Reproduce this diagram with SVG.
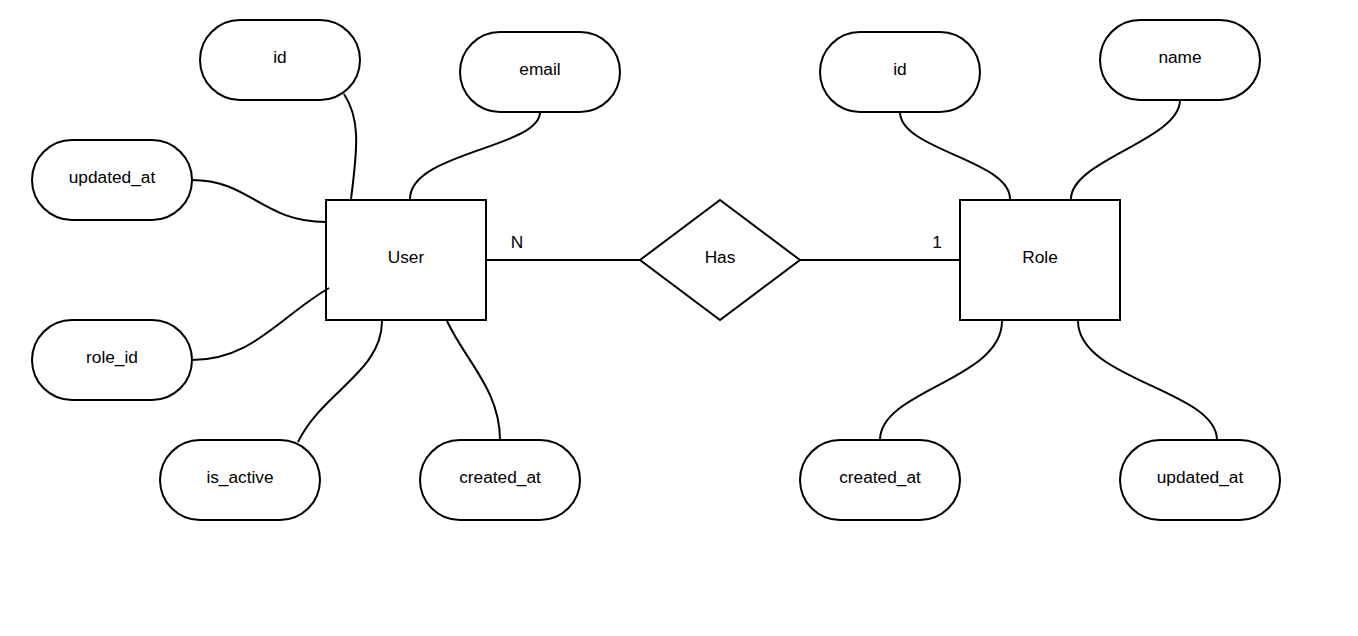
<svg xmlns="http://www.w3.org/2000/svg" width="1358" height="636" viewBox="0 0 1358 636">
  <style>
    .shape { fill: #ffffff; stroke: #000000; stroke-width: 2; }
    .edge { fill: none; stroke: #000000; stroke-width: 2; }
    text { font-family: "Liberation Sans", Arial, sans-serif; font-size: 17.3px; fill: #000000; text-anchor: middle; }
  </style>
  <rect width="1358" height="636" fill="#ffffff"/>

  <!-- entities and relationship -->
  <g id="user">
    <rect class="shape" x="326" y="200" width="160" height="120"/>
    <text x="406" y="263">User</text>
  </g>
  <g id="role">
    <rect class="shape" x="960" y="200" width="160" height="120"/>
    <text x="1040" y="263">Role</text>
  </g>
  <g id="has">
    <polygon class="shape" points="720,200 800,260 720,320 640,260"/>
    <text x="720" y="263">Has</text>
  </g>

  <!-- User attributes -->
  <g id="user-id">
    <rect class="shape" x="200" y="20" width="160" height="80" rx="40" ry="40"/>
    <text x="280" y="63">id</text>
  </g>
  <g id="user-email">
    <rect class="shape" x="460" y="32" width="160" height="80" rx="40" ry="40"/>
    <text x="540" y="75">email</text>
  </g>
  <g id="user-updated-at">
    <rect class="shape" x="32" y="140" width="160" height="80" rx="40" ry="40"/>
    <text x="112" y="183">updated_at</text>
  </g>
  <g id="user-role-id">
    <rect class="shape" x="32" y="320" width="160" height="80" rx="40" ry="40"/>
    <text x="112" y="363">role_id</text>
  </g>
  <g id="user-is-active">
    <rect class="shape" x="160" y="440" width="160" height="80" rx="40" ry="40"/>
    <text x="240" y="483">is_active</text>
  </g>
  <g id="user-created-at">
    <rect class="shape" x="420" y="440" width="160" height="80" rx="40" ry="40"/>
    <text x="500" y="483">created_at</text>
  </g>

  <!-- Role attributes -->
  <g id="role-id">
    <rect class="shape" x="820" y="32" width="160" height="80" rx="40" ry="40"/>
    <text x="900" y="75">id</text>
  </g>
  <g id="role-name">
    <rect class="shape" x="1100" y="20" width="160" height="80" rx="40" ry="40"/>
    <text x="1180" y="63">name</text>
  </g>
  <g id="role-created-at">
    <rect class="shape" x="800" y="440" width="160" height="80" rx="40" ry="40"/>
    <text x="880" y="483">created_at</text>
  </g>
  <g id="role-updated-at">
    <rect class="shape" x="1120" y="440" width="160" height="80" rx="40" ry="40"/>
    <text x="1200" y="483">updated_at</text>
  </g>

  <!-- connectors -->
  <g id="connectors">
    <path class="edge" d="M344,94 C360,118 358,145 351,199"/>
    <path class="edge" d="M192,180 C250,180 262,222 326,222"/>
    <path class="edge" d="M192,360 C252,360 278,318 329,288"/>
    <path class="edge" d="M382,321 C382,372 322,392 298,442"/>
    <path class="edge" d="M447,321 C465,360 500,390 500,440"/>
    <path class="edge" d="M540,112 C540,148 410,152 410,199"/>
    <path class="edge" d="M900,112 C900,150 1010,160 1010,199"/>
    <path class="edge" d="M1180,100 C1180,140 1071,160 1071,199"/>
    <path class="edge" d="M1002,321 C1002,380 880,390 880,440"/>
    <path class="edge" d="M1078,321 C1078,380 1217,390 1217,440"/>
    <path class="edge" d="M487,260 L640,260"/>
    <path class="edge" d="M800,260 L959,260"/>
    <text x="517" y="248">N</text>
    <text x="937" y="248">1</text>
  </g>
</svg>
